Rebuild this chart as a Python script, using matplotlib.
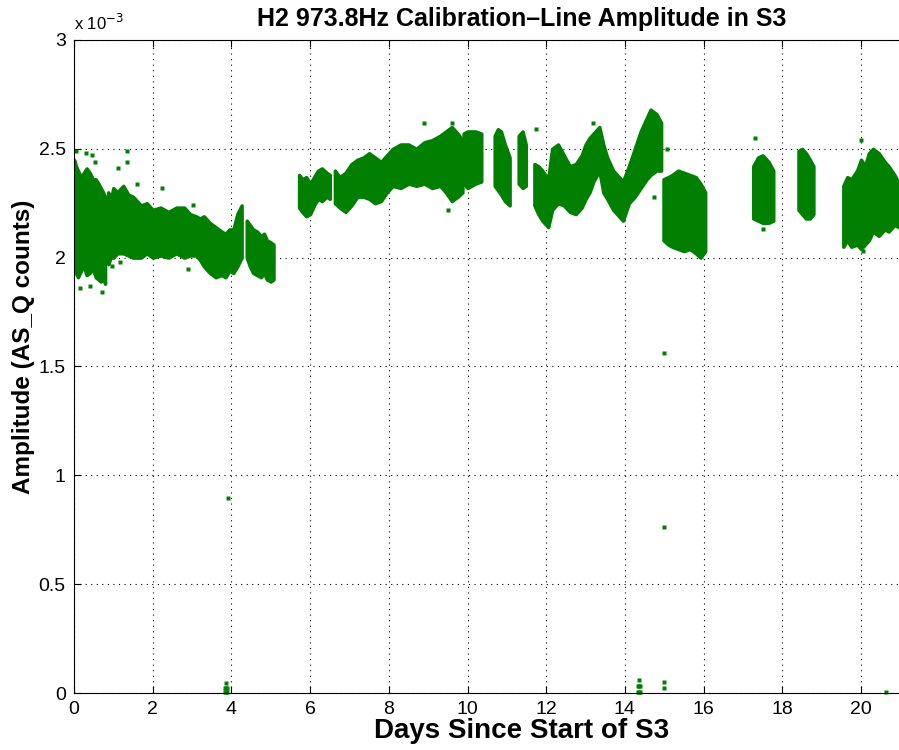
import matplotlib.pyplot as plt
from matplotlib.ticker import FuncFormatter

plt.rcParams['font.family'] = ['Liberation Sans', 'DejaVu Sans']

# amplitude in units of 1e-3 AS_Q counts; envelopes (day, lower, upper) per data run
a_day = [0.0, 0.05, 0.1, 0.18, 0.25, 0.32, 0.4, 0.48, 0.55, 0.62, 0.68, 0.74, 0.79]
a_lo = [1.95, 1.93, 1.91, 1.94, 1.96, 1.92, 1.93, 1.95, 1.91, 1.90, 1.89, 1.91, 1.88]
a_hi = [2.45, 2.42, 2.40, 2.37, 2.39, 2.41, 2.39, 2.36, 2.36, 2.34, 2.32, 2.30, 2.28]

b_day = [0.87, 0.93, 1.0, 1.1, 1.25, 1.38, 1.5, 1.7, 1.85, 2.0, 2.2, 2.4, 2.6,
         2.8, 2.95, 3.1, 3.2, 3.3, 3.45, 3.6, 3.75, 3.85, 3.95, 4.05, 4.15, 4.26]
b_lo = [1.97, 2.00, 2.00, 2.02, 2.02, 2.01, 2.00, 2.00, 2.02, 2.00, 2.01, 2.00,
        2.02, 2.00, 2.01, 2.01, 1.99, 1.96, 1.93, 1.91, 1.92, 1.91, 1.94, 1.93,
        1.96, 2.00]
b_hi = [2.30, 2.26, 2.32, 2.30, 2.33, 2.29, 2.28, 2.24, 2.25, 2.22, 2.23, 2.21,
        2.23, 2.23, 2.20, 2.19, 2.18, 2.19, 2.16, 2.14, 2.12, 2.11, 2.13, 2.13,
        2.20, 2.24]

c_day = [4.39, 4.47, 4.55, 4.65, 4.75, 4.83, 4.9, 5.0, 5.07]
c_lo = [2.00, 1.96, 1.93, 1.92, 1.91, 1.93, 1.90, 1.89, 1.90]
c_hi = [2.17, 2.15, 2.13, 2.12, 2.10, 2.11, 2.08, 2.07, 2.06]

d_day = [5.72, 5.8, 5.9, 6.0, 6.1, 6.2, 6.3, 6.42, 6.5]
d_lo = [2.23, 2.21, 2.19, 2.20, 2.24, 2.27, 2.26, 2.28, 2.27]
d_hi = [2.38, 2.36, 2.37, 2.34, 2.37, 2.40, 2.41, 2.39, 2.38]

e_day = [6.63, 6.75, 6.9, 7.05, 7.2, 7.35, 7.5, 7.65, 7.8, 7.95, 8.1, 8.3,
         8.5, 8.7, 8.9, 9.1, 9.3, 9.45, 9.6, 9.75, 9.87]
e_lo = [2.25, 2.23, 2.21, 2.24, 2.28, 2.28, 2.27, 2.25, 2.26, 2.30, 2.33,
        2.32, 2.34, 2.33, 2.34, 2.32, 2.33, 2.30, 2.26, 2.28, 2.30]
e_hi = [2.40, 2.37, 2.39, 2.43, 2.45, 2.46, 2.48, 2.46, 2.44, 2.47, 2.50,
        2.52, 2.52, 2.50, 2.53, 2.54, 2.56, 2.58, 2.60, 2.57, 2.54]

f_day = [9.9, 10.0, 10.1, 10.2, 10.35]
f_lo = [2.34, 2.32, 2.33, 2.34, 2.35]
f_hi = [2.57, 2.58, 2.58, 2.58, 2.57]

g_day = [10.69, 10.77, 10.85, 10.95, 11.07]
g_lo = [2.33, 2.31, 2.29, 2.26, 2.24]
g_hi = [2.56, 2.59, 2.58, 2.52, 2.46]

h_day = [11.3, 11.4, 11.48]
h_lo = [2.34, 2.32, 2.33]
h_hi = [2.56, 2.58, 2.52]

i_day = [11.7, 11.8, 11.9, 12.05, 12.15, 12.3, 12.45, 12.6, 12.75, 12.9, 13.0,
         13.1, 13.2, 13.35, 13.45, 13.55, 13.7, 13.85, 13.95, 14.1, 14.25, 14.4,
         14.55, 14.65, 14.8, 14.92]
i_lo = [2.24, 2.20, 2.17, 2.14, 2.22, 2.25, 2.24, 2.21, 2.20, 2.23, 2.27,
        2.30, 2.35, 2.40, 2.30, 2.27, 2.22, 2.19, 2.17, 2.25, 2.28, 2.32,
        2.36, 2.38, 2.40, 2.40]
i_hi = [2.43, 2.42, 2.40, 2.36, 2.50, 2.52, 2.47, 2.42, 2.43, 2.47, 2.52,
        2.55, 2.57, 2.60, 2.52, 2.46, 2.40, 2.37, 2.35, 2.42, 2.50, 2.58,
        2.64, 2.68, 2.66, 2.62]

j_day = [14.98, 15.1, 15.2, 15.35, 15.5, 15.65, 15.8, 15.92, 16.04]
j_lo = [2.08, 2.06, 2.05, 2.04, 2.03, 2.04, 2.02, 2.00, 2.03]
j_hi = [2.36, 2.37, 2.38, 2.40, 2.39, 2.38, 2.37, 2.34, 2.30]

k_day = [17.26, 17.38, 17.5, 17.65, 17.77]
k_lo = [2.18, 2.17, 2.16, 2.16, 2.17]
k_hi = [2.42, 2.46, 2.47, 2.44, 2.40]

l_day = [18.41, 18.5, 18.6, 18.7, 18.79]
l_lo = [2.22, 2.20, 2.18, 2.18, 2.20]
l_hi = [2.49, 2.50, 2.48, 2.45, 2.42]

m_day = [19.55, 19.65, 19.75, 19.9, 20.0, 20.1, 20.2, 20.3, 20.45, 20.6,
         20.7, 20.85, 20.96]
m_lo = [2.05, 2.08, 2.05, 2.06, 2.04, 2.06, 2.08, 2.12, 2.10, 2.13, 2.12,
        2.15, 2.14]
m_hi = [2.33, 2.37, 2.36, 2.40, 2.45, 2.42, 2.48, 2.50, 2.48, 2.44, 2.42,
        2.38, 2.34]

runs = [(a_day, a_lo, a_hi), (b_day, b_lo, b_hi), (c_day, c_lo, c_hi),
        (d_day, d_lo, d_hi), (e_day, e_lo, e_hi), (f_day, f_lo, f_hi),
        (g_day, g_lo, g_hi), (h_day, h_lo, h_hi), (i_day, i_lo, i_hi),
        (j_day, j_lo, j_hi), (k_day, k_lo, k_hi), (l_day, l_lo, l_hi),
        (m_day, m_lo, m_hi)]

# stray samples around the bands
stray_day = [0.45, 0.53, 1.13, 1.34, 1.34, 1.59, 2.23, 0.15, 0.41, 0.70, 0.96,
             1.17, 2.90, 3.03, 8.9, 9.6, 9.5, 11.75, 15.06, 14.75, 17.3,
             17.5, 20.0, 20.05, 13.2, 0.05, 0.3]
stray_amp = [2.47, 2.44, 2.41, 2.49, 2.44, 2.34, 2.32, 1.86, 1.87, 1.84, 1.96,
             1.98, 1.95, 2.24, 2.62, 2.62, 2.22, 2.59, 2.50, 2.28, 2.55,
             2.13, 2.54, 2.03, 2.62, 2.49, 2.48]

# glitches far below the line
glitch_day = [3.91, 3.84, 3.87, 3.90, 3.84, 3.87, 3.90, 3.87,
              14.99, 14.99, 14.32, 14.35, 14.38, 14.32, 14.35, 14.38, 14.35,
              14.99, 14.99, 20.63]
glitch_amp = [0.895, 0.005, 0.005, 0.005, 0.025, 0.025, 0.025, 0.045,
              1.56, 0.762, 0.005, 0.005, 0.005, 0.03, 0.03, 0.03, 0.06,
              0.05, 0.022, 0.004]

green = '#007f00'

fig = plt.figure(figsize=(8.99, 7.5), dpi=100)
# the original axes runs past the right edge of the picture
ax = fig.add_axes([0.0823, 0.076, 0.9967, 0.8707])

for day, lo, hi in runs:
    ax.fill_between(day, lo, hi, color=green, linewidth=2.5, edgecolor=green)
ax.plot(stray_day, stray_amp, 's', color=green, markersize=3.5, mec='none')
ax.plot(glitch_day, glitch_amp, 's', color=green, markersize=3.5, mec='none',
        clip_on=False)

ax.set_xlim(0, 22.77)
ax.set_ylim(0, 3)
ax.set_xticks(range(0, 21, 2))
ax.set_yticks([0, 0.5, 1, 1.5, 2, 2.5, 3])
ax.yaxis.set_major_formatter(FuncFormatter(lambda v, p: '%g' % v))
ax.grid(True, linestyle=(0, (1, 4)), color='k', linewidth=0.8)
ax.set_axisbelow(True)
ax.tick_params(direction='in', top=True, right=True, length=5, labelsize=14,
               pad=6)

ax.set_title('H2 973.8Hz Calibration\u2013Line Amplitude in S3',
             fontsize=18, fontweight='bold', pad=10)
ax.set_xlabel('Days Since Start of S3', fontsize=20, fontweight='bold',
              labelpad=0)
ax.set_ylabel('Amplitude (AS_Q counts)', fontsize=17.5, fontweight='bold')
ax.yaxis.set_label_coords(-0.0435, 0.53)
ax.text(0.0, 1.01, r'x 10$^{-3}$', transform=ax.transAxes, fontsize=12,
        va='bottom', ha='left')

fig.savefig('out.png', dpi=100)
